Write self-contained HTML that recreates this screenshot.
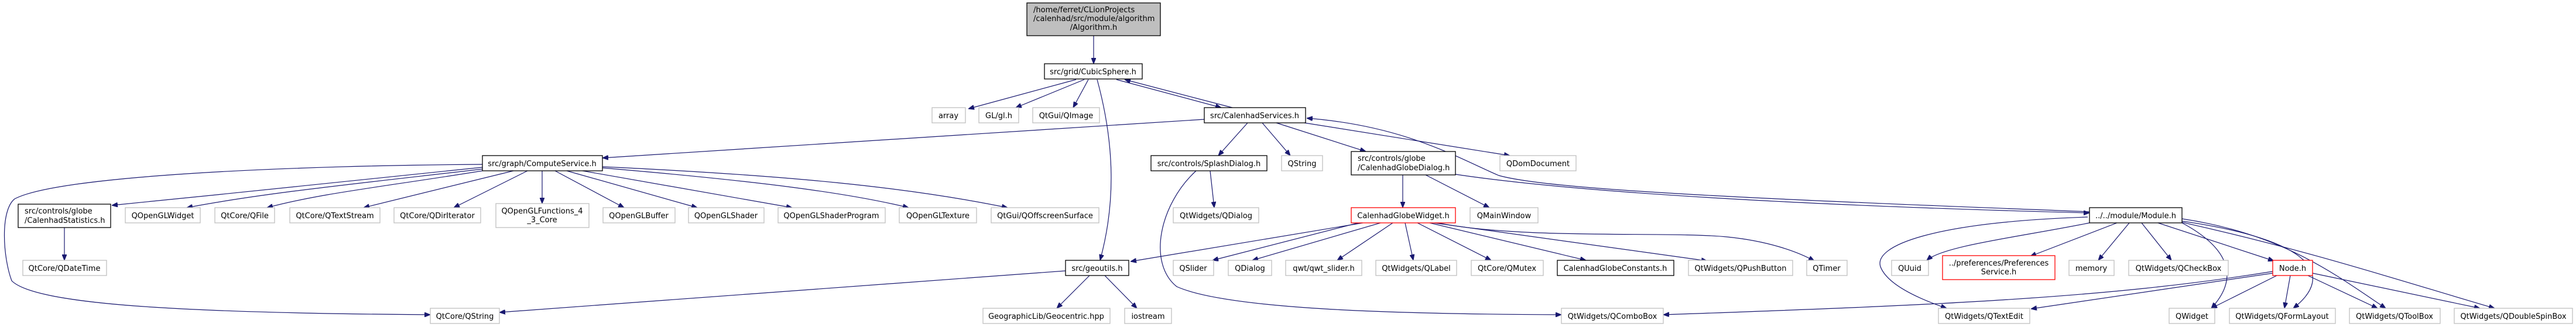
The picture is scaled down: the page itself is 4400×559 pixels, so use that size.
<!DOCTYPE html>
<html><head><meta charset="utf-8"><style>
html,body{margin:0;padding:0;background:#fff}
svg{display:block}
text{font-family:"DejaVu Sans","Liberation Sans",sans-serif;font-size:13px;fill:#000}
.e{fill:none;stroke:#191970;stroke-width:1.2}
.g{fill:#fff;stroke:#bfbfbf;stroke-width:1.3}
.b{fill:#fff;stroke:#000;stroke-width:1.3}
.r{fill:#fff;stroke:#ff0000;stroke-width:1.3}
</style></head><body>
<svg width="4400" height="559" viewBox="0 0 4400 559" xmlns="http://www.w3.org/2000/svg">
<defs><marker id="a" markerWidth="10" markerHeight="8" refX="10" refY="4" orient="auto" markerUnits="userSpaceOnUse"><path d="M0,0 L10,4 L0,8 Z" fill="#191970" stroke="#191970"/></marker></defs>
<g marker-end="url(#a)">
<path class="e" d="M1868,61 L1868,109"/>
<path class="e" d="M1838,136 L1654,186"/>
<path class="e" d="M1852,136 L1735,184"/>
<path class="e" d="M1859,136 L1833,184"/>
<path class="e" d="M1907,136 L2086,184"/>
<path class="e" d="M2105,184 L1921,136"/>
<path class="e" d="M1874,136 C1905,250 1905,350 1879,445"/>
<path class="e" d="M2057,204 L1029,270"/>
<path class="e" d="M2131,210 L2081,266"/>
<path class="e" d="M2156,210 L2204,266"/>
<path class="e" d="M2180,210 L2333,259"/>
<path class="e" d="M2228,210 L2579,266"/>
<path class="e" d="M3569,362 C3000,340 2650,325 2560,300 C2490,270 2400,215 2232,202"/>
<path class="e" d="M2486,298 C2700,330 3100,352 3569,364"/>
<path class="e" d="M824,286 C600,310 400,330 191,351"/>
<path class="e" d="M824,289 C600,315 450,330 319,355"/>
<path class="e" d="M824,292 C650,320 550,330 456,355"/>
<path class="e" d="M877,292 L621,355"/>
<path class="e" d="M901,292 L775,355"/>
<path class="e" d="M926,292 L926,348"/>
<path class="e" d="M948,292 L1066,355"/>
<path class="e" d="M968,292 L1191,355"/>
<path class="e" d="M995,292 L1353,355"/>
<path class="e" d="M1029,287 C1300,310 1450,330 1552,355"/>
<path class="e" d="M1029,285 C1350,300 1550,320 1721,355"/>
<path class="e" d="M824,281 C500,283 100,300 25,340 C0,360 5,440 20,480 C60,520 300,535 735,538"/>
<path class="e" d="M110,389 L110,445"/>
<path class="e" d="M1820,463 L853,534"/>
<path class="e" d="M1861,471 L1805,527"/>
<path class="e" d="M1887,471 L1942,527"/>
<path class="e" d="M2067,292 L2074,355"/>
<path class="e" d="M2043,292 C1980,350 1960,450 2010,490 C2100,530 2400,537 2667,538"/>
<path class="e" d="M2396,299 L2396,355"/>
<path class="e" d="M2435,299 L2544,355"/>
<path class="e" d="M2328,381 L1931,447"/>
<path class="e" d="M2320,381 L2071,445"/>
<path class="e" d="M2358,381 L2139,445"/>
<path class="e" d="M2379,381 L2284,445"/>
<path class="e" d="M2400,381 L2414,445"/>
<path class="e" d="M2421,381 L2547,445"/>
<path class="e" d="M2442,381 L2709,445"/>
<path class="e" d="M2449,381 L2916,446"/>
<path class="e" d="M2456,381 C2600,410 2850,395 2950,405 C3020,412 3070,430 3099,446"/>
<path class="e" d="M3616,381 L3468,438"/>
<path class="e" d="M3637,381 L3584,445"/>
<path class="e" d="M3658,381 L3709,445"/>
<path class="e" d="M3686,381 L3884,446"/>
<path class="e" d="M3569,381 C3450,405 3320,420 3291,445"/>
<path class="e" d="M3566,371 C3300,380 3200,420 3212,456 C3225,490 3290,515 3325,527"/>
<path class="e" d="M3727,381 C3800,420 3830,470 3777,527"/>
<path class="e" d="M3727,378 C3950,410 3990,470 3917,527"/>
<path class="e" d="M3727,374 C3900,400 3990,470 4075,527"/>
<path class="e" d="M3727,380 C3950,430 4100,480 4261,527"/>
<path class="e" d="M3889,471 L3777,527"/>
<path class="e" d="M3912,471 L3902,527"/>
<path class="e" d="M3942,471 L4061,527"/>
<path class="e" d="M3950,467 L4236,527"/>
<path class="e" d="M3882,467 L3469,528"/>
<path class="e" d="M3882,464 C3600,510 3300,522 2841,538"/>
</g>
<!-- nodes -->
<rect x="1754" y="5" width="228" height="56" fill="#bfbfbf" stroke="#000" stroke-width="1.3"/>
<text x="1765" y="21">/home/ferret/CLionProjects</text>
<text x="1765" y="36">/calenhad/src/module/algorithm</text>
<text x="1868" y="51" text-anchor="middle">/Algorithm.h</text>
<g text-anchor="middle">
<rect class="b" x="1784" y="109" width="167" height="26"/><text x="1867" y="127">src/grid/CubicSphere.h</text>
<rect class="g" x="1592" y="184" width="57" height="26"/><text x="1620" y="202">array</text>
<rect class="g" x="1672" y="184" width="68" height="26"/><text x="1706" y="202">GL/gl.h</text>
<rect class="g" x="1764" y="184" width="114" height="26"/><text x="1821" y="202">QtGui/QImage</text>
<rect class="b" x="2057" y="184" width="173" height="26"/><text x="2143" y="202">src/CalenhadServices.h</text>
<rect class="b" x="824" y="266" width="205" height="26"/><text x="926" y="284">src/graph/ComputeService.h</text>
<rect class="b" x="1966" y="266" width="198" height="26"/><text x="2065" y="284">src/controls/SplashDialog.h</text>
<rect class="g" x="2189" y="266" width="70" height="26"/><text x="2224" y="284">QString</text>
<rect class="g" x="2562" y="266" width="130" height="26"/><text x="2627" y="284">QDomDocument</text>
<rect class="b" x="2308" y="259" width="178" height="40"/>
<rect class="b" x="31" y="349" width="158" height="40"/>
<rect class="g" x="214" y="355" width="128" height="26"/><text x="278" y="373">QOpenGLWidget</text>
<rect class="g" x="367" y="355" width="102" height="26"/><text x="418" y="373">QtCore/QFile</text>
<rect class="g" x="495" y="355" width="154" height="26"/><text x="572" y="373">QtCore/QTextStream</text>
<rect class="g" x="673" y="355" width="148" height="26"/><text x="747" y="373">QtCore/QDirIterator</text>
<rect class="g" x="847" y="348" width="159" height="41"/><text x="926" y="365">QOpenGLFunctions_4</text><text x="926" y="380">_3_Core</text>
<rect class="g" x="1030" y="355" width="123" height="26"/><text x="1091" y="373">QOpenGLBuffer</text>
<rect class="g" x="1176" y="355" width="129" height="26"/><text x="1240" y="373">QOpenGLShader</text>
<rect class="g" x="1329" y="355" width="183" height="26"/><text x="1420" y="373">QOpenGLShaderProgram</text>
<rect class="g" x="1536" y="355" width="132" height="26"/><text x="1602" y="373">QOpenGLTexture</text>
<rect class="g" x="1693" y="355" width="184" height="26"/><text x="1785" y="373">QtGui/QOffscreenSurface</text>
<rect class="g" x="2004" y="355" width="146" height="26"/><text x="2077" y="373">QtWidgets/QDialog</text>
<rect class="r" x="2308" y="355" width="178" height="26"/><text x="2397" y="373">CalenhadGlobeWidget.h</text>
<rect class="g" x="2511" y="355" width="116" height="26"/><text x="2569" y="373">QMainWindow</text>
<rect class="b" x="3569" y="355" width="158" height="26"/><text x="3648" y="373">../../module/Module.h</text>
<rect class="g" x="39" y="445" width="143" height="26"/><text x="110" y="463">QtCore/QDateTime</text>
<rect class="b" x="1820" y="445" width="108" height="26"/><text x="1874" y="463">src/geoutils.h</text>
<rect class="g" x="2004" y="445" width="69" height="26"/><text x="2038" y="463">QSlider</text>
<rect class="g" x="2098" y="445" width="74" height="26"/><text x="2135" y="463">QDialog</text>
<rect class="g" x="2196" y="445" width="130" height="26"/><text x="2261" y="463">qwt/qwt_slider.h</text>
<rect class="g" x="2350" y="445" width="138" height="26"/><text x="2419" y="463">QtWidgets/QLabel</text>
<rect class="g" x="2513" y="445" width="123" height="26"/><text x="2574" y="463">QtCore/QMutex</text>
<rect class="b" x="2660" y="445" width="199" height="26"/><text x="2759" y="463">CalenhadGlobeConstants.h</text>
<rect class="g" x="2884" y="445" width="178" height="26"/><text x="2973" y="463">QtWidgets/QPushButton</text>
<rect class="g" x="3086" y="445" width="69" height="26"/><text x="3120" y="463">QTimer</text>
<rect class="g" x="3231" y="445" width="63" height="26"/><text x="3262" y="463">QUuid</text>
<rect class="r" x="3318" y="437" width="192" height="41"/><text x="3414" y="454">../preferences/Preferences</text><text x="3414" y="469">Service.h</text>
<rect class="g" x="3534" y="445" width="77" height="26"/><text x="3572" y="463">memory</text>
<rect class="g" x="3636" y="445" width="170" height="26"/><text x="3721" y="463">QtWidgets/QCheckBox</text>
<rect class="r" x="3882" y="445" width="68" height="26"/><text x="3916" y="463">Node.h</text>
<rect class="g" x="735" y="527" width="118" height="26"/><text x="794" y="545">QtCore/QString</text>
<rect class="g" x="1679" y="527" width="217" height="26"/><text x="1787" y="545">GeographicLib/Geocentric.hpp</text>
<rect class="g" x="1921" y="527" width="80" height="26"/><text x="1961" y="545">iostream</text>
<rect class="g" x="2667" y="527" width="174" height="26"/><text x="2754" y="545">QtWidgets/QComboBox</text>
<rect class="g" x="3311" y="527" width="156" height="26"/><text x="3389" y="545">QtWidgets/QTextEdit</text>
<rect class="g" x="3705" y="527" width="78" height="26"/><text x="3744" y="545">QWidget</text>
<rect class="g" x="3808" y="527" width="181" height="26"/><text x="3898" y="545">QtWidgets/QFormLayout</text>
<rect class="g" x="4013" y="527" width="155" height="26"/><text x="4090" y="545">QtWidgets/QToolBox</text>
<rect class="g" x="4192" y="527" width="202" height="26"/><text x="4293" y="545">QtWidgets/QDoubleSpinBox</text>
</g>
<text x="2319" y="275">src/controls/globe</text><text x="2319" y="291">/CalenhadGlobeDialog.h</text>
<text x="42" y="365">src/controls/globe</text><text x="42" y="381">/CalenhadStatistics.h</text>
</svg>
</body></html>
